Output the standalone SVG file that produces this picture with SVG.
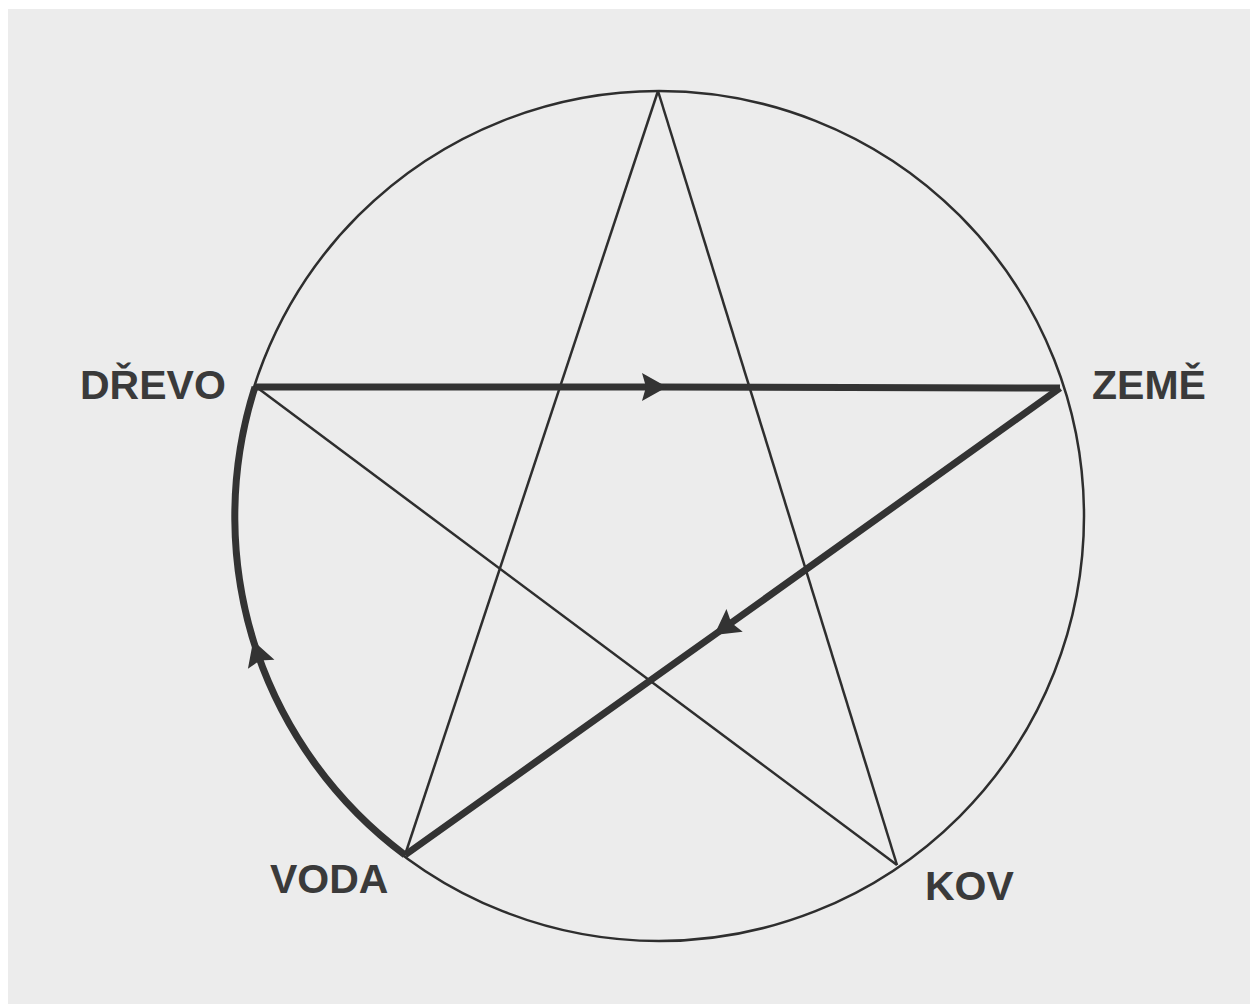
<svg xmlns="http://www.w3.org/2000/svg" width="1250" height="1004" viewBox="0 0 1250 1004">
  <style>
    .thin { fill: none; stroke: #2e2e2e; stroke-width: 2.5; }
    .thick { fill: none; stroke: #333; stroke-width: 7; stroke-linejoin: round; }
    .label { font-family: "Liberation Sans", Arial, sans-serif; font-weight: bold; font-size: 41px; fill: #3a3a3a; }
  </style>
  <defs>
    <marker id="arrow" markerUnits="userSpaceOnUse" markerWidth="50" markerHeight="50" viewBox="-25 -25 50 50" refX="0" refY="0" orient="auto">
      <path d="M12,0 L-13,-14 L-9,0 L-13,14 Z" fill="#333"/>
    </marker>
  </defs>
  <rect width="1250" height="1004" fill="#ffffff"/>
  <rect x="8" y="9" width="1242" height="995" fill="#ececec"/>

  <g id="circle">
    <circle cx="659" cy="516" r="425" class="thin"/>
  </g>

  <g id="connectors">
    <line x1="658" y1="91" x2="405" y2="855" class="thin"/>
    <line x1="658" y1="91" x2="897" y2="865" class="thin"/>
    <line x1="255" y1="386" x2="897" y2="865" class="thin"/>
    <path d="M255,387 L655,387 L1060,388" class="thick" marker-mid="url(#arrow)"/>
    <path d="M1060,388 L724,628 L405,855" class="thick" marker-mid="url(#arrow)"/>
    <path d="M405,855 A425,425 0 0 1 257,652 A425,425 0 0 1 255,387" class="thick" marker-mid="url(#arrow)"/>
  </g>

  <g id="node-drevo"><text x="80" y="399" class="label">DŘEVO</text></g>
  <g id="node-zeme"><text x="1092" y="399" class="label">ZEMĚ</text></g>
  <g id="node-voda"><text x="270" y="893" class="label">VODA</text></g>
  <g id="node-kov"><text x="925" y="900" class="label">KOV</text></g>
</svg>
